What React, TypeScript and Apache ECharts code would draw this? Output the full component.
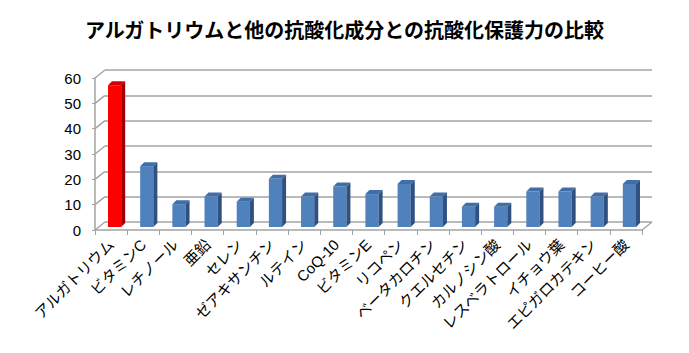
import React, { useEffect, useRef } from "react";
import * as echarts from "echarts";

const TITLE = "アルガトリウムと他の抗酸化成分との抗酸化保護力の比較";
const categories = [
  "アルガトリウム", "ビタミンC", "レチノール", "亜鉛", "セレン", "ゼアキサンチン",
  "ルテイン", "CoQ-10", "ビタミンE", "リコペン", "ベータカロチン", "クエルセチン",
  "カルノシン酸", "レスベラトロール", "イチョウ葉", "エピガロカテキン", "コーヒー酸",
];
const values = [56, 24, 9, 12, 10, 19, 12, 16, 13, 17, 12, 8, 8, 14, 14, 12, 17];
const yTicks = [0, 10, 20, 30, 40, 50, 60];

const TITLE_FONT = "'Noto Sans CJK JP', sans-serif";
const FONT = "'Liberation Sans', 'Noto Sans CJK JP', sans-serif";
const GRID_COLOR = "#a3a3a3";
const DEPTH_X = 10;
const DEPTH_Y = -8;

export default function App() {
  const ref = useRef<HTMLDivElement>(null);
  useEffect(() => {
    document.body.style.margin = "0";
    const chart = echarts.init(ref.current!, null, { renderer: "svg" });
    const barData = values.map((v, i) => [i, v]);
    const option: any = {
      animation: false,
      backgroundColor: "#ffffff",
      title: {
        text: TITLE,
        left: 80,
        top: 14,
        textStyle: { fontFamily: TITLE_FONT, fontSize: 20, fontWeight: "bold", color: "#000" },
      },
      grid: [
        { left: 95, right: 47, top: 78, bottom: 123 },
        { left: 95 + DEPTH_X, right: 47 - DEPTH_X, top: 78 + DEPTH_Y, bottom: 123 - DEPTH_Y },
      ],
      xAxis: [
        {
          type: "category",
          gridIndex: 0,
          data: categories,
          axisLine: { show: true, lineStyle: { color: GRID_COLOR, width: 1.5 } },
          axisTick: { show: true, interval: 0, length: 5, lineStyle: { color: GRID_COLOR } },
          axisLabel: {
            interval: 0,
            rotate: 45,
            margin: 12,
            fontSize: 15,
            color: "#000",
            fontFamily: FONT,
          },
        },
        { type: "category", gridIndex: 1, data: categories, show: false },
      ],
      yAxis: [
        {
          type: "value",
          gridIndex: 0,
          min: 0,
          max: 60,
          interval: 10,
          axisLine: { show: true, lineStyle: { color: GRID_COLOR, width: 1.5 } },
          axisTick: { show: true, length: 3, lineStyle: { color: GRID_COLOR } },
          splitLine: { show: false },
          axisLabel: { fontSize: 15, color: "#000", margin: 14, fontFamily: FONT },
        },
        {
          type: "value",
          gridIndex: 1,
          min: 0,
          max: 60,
          interval: 10,
          axisLine: { show: false },
          axisTick: { show: false },
          axisLabel: { show: false },
          splitLine: { show: true, lineStyle: { color: GRID_COLOR, width: 1.5 } },
        },
      ],
      series: [
        {
          type: "custom",
          name: "frame",
          xAxisIndex: 0,
          yAxisIndex: 0,
          data: yTicks.map((t) => [0, t]),
          silent: true,
          z: 1,
          renderItem: (params: any, api: any) => {
            const cs = params.coordSys;
            const v = api.value(1);
            const y = api.coord([0, v])[1];
            const children: any[] = [
              {
                type: "line",
                shape: { x1: cs.x, y1: y, x2: cs.x + DEPTH_X, y2: y + DEPTH_Y },
                style: { stroke: GRID_COLOR, lineWidth: 1.5 },
              },
            ];
            if (v === 0) {
              children.push({
                type: "line",
                shape: { x1: cs.x + cs.width, y1: y, x2: cs.x + cs.width + DEPTH_X, y2: y + DEPTH_Y },
                style: { stroke: GRID_COLOR, lineWidth: 1.5 },
              });
            }
            return { type: "group", children };
          },
        },
        {
          type: "custom",
          name: "bars",
          xAxisIndex: 0,
          yAxisIndex: 0,
          data: barData,
          z: 3,
          renderItem: (params: any, api: any) => {
            const idx = api.value(0);
            const v = api.value(1);
            const top = api.coord([idx, v]);
            const base = api.coord([idx, 0]);
            const band = api.size([1, 0])[0];
            const w = band * 0.41;
            const ox = 3.5;
            const oy = -3;
            const d = 4;
            const x0 = top[0] - w / 2 + ox;
            const x1 = x0 + w;
            const yT = top[1] + oy;
            const yB = base[1] + oy;
            const red = idx === 0;
            const front = red ? "#ff0000" : "#4f81bd";
            const topC = red ? "#d40000" : "#3f6ea8";
            const side = red ? "#a00000" : "#2e5180";
            return {
              type: "group",
              children: [
                {
                  type: "rect",
                  shape: { x: x0, y: yT, width: w, height: yB - yT },
                  style: { fill: front },
                },
                {
                  type: "polygon",
                  shape: { points: [[x0, yT], [x1, yT], [x1 + d, yT - d], [x0 + d, yT - d]] },
                  style: { fill: topC },
                },
                {
                  type: "polygon",
                  shape: { points: [[x1, yT], [x1 + d, yT - d], [x1 + d, yB - d], [x1, yB]] },
                  style: { fill: side },
                },
              ],
            };
          },
        },
      ],
    };
    chart.setOption(option);
    return () => chart.dispose();
  }, []);
  return <div ref={ref} style={{ width: 689, height: 353 }} />;
}
